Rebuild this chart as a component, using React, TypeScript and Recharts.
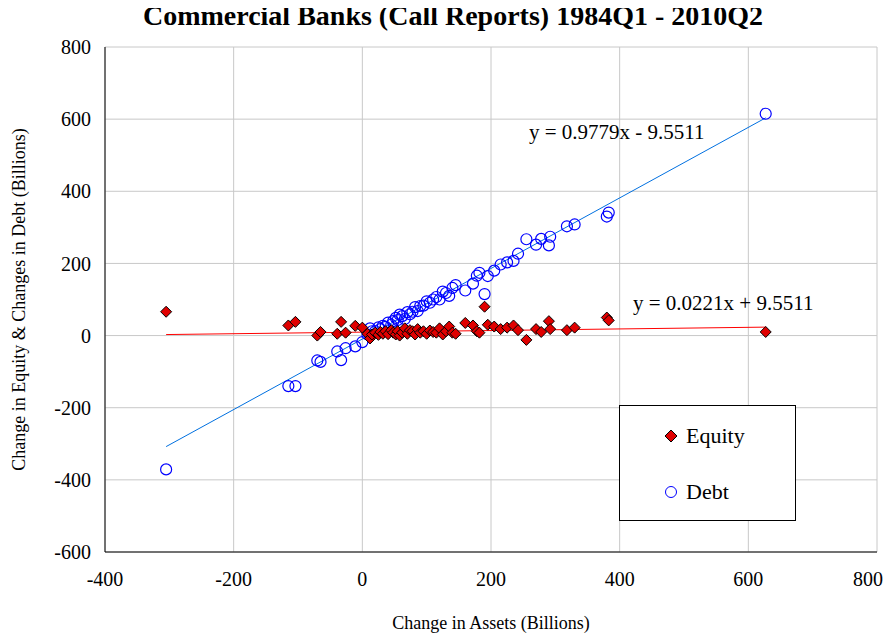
import React from "react";
import { ComposedChart, Scatter, XAxis, YAxis, CartesianGrid, Label } from "recharts";

const assets = [-305, -115, -104, -70, -65, -39, -33, -26, -11, 0, 8, 12, 15, 20, 25, 28, 32, 36, 40, 45, 48, 52, 55, 58, 62, 66, 70, 74, 78, 82, 86, 90, 95, 100, 105, 110, 115, 120, 125, 130, 135, 140, 145, 160, 172, 178, 182, 190, 195, 205, 215, 225, 235, 242, 255, 270, 278, 290, 292, 318, 330, 380, 383, 627];
const equity = [66, 28, 38, 0, 10, 5, 38, 8, 27, 22, 5, -8, 3, 8, 2, 10, 5, 12, 4, 15, 8, 3, 12, 0, 8, 20, 5, 15, 12, 3, 18, 8, 12, 5, 14, 10, 8, 20, 3, 12, 25, 8, 5, 35, 28, 12, 8, 80, 30, 25, 18, 22, 28, 15, -12, 18, 10, 40, 18, 15, 22, 50, 42, 10];
const debt = [-371, -140, -140, -69, -73, -44, -68, -35, -30, -18, 3, 20, 12, 12, 23, 18, 27, 24, 36, 30, 40, 49, 43, 58, 54, 46, 65, 59, 66, 79, 68, 82, 83, 95, 91, 100, 107, 100, 122, 118, 110, 132, 140, 125, 144, 166, 174, 115, 165, 180, 197, 203, 207, 227, 267, 252, 268, 250, 274, 303, 308, 330, 341, 615];
const equityFit = [{ x: -305, y: 2.8 }, { x: 627, y: 23.4 }];
const debtFit = [{ x: -305, y: -307.8 }, { x: 627, y: 603.6 }];
const xTicks = [-400, -200, 0, 200, 400, 600, 800];
const yTicks = [-600, -400, -200, 0, 200, 400, 600, 800];

const equityData = assets.map((x, i) => ({ x, y: equity[i] }));
const debtData = assets.map((x, i) => ({ x, y: debt[i] }));

const font = "Liberation Serif, Times New Roman, serif";

const Diamond = (p: any) => {
  const { cx, cy } = p;
  const r = 5.5;
  return <path d={`M${cx},${cy - r}L${cx + r},${cy}L${cx},${cy + r}L${cx - r},${cy}Z`} fill="#e00000" stroke="#000" strokeWidth={1} />;
};
const Circle = (p: any) => <circle cx={p.cx} cy={p.cy} r={5.5} fill="none" stroke="#0000ff" strokeWidth={1.2} />;
const None = () => null;

const LegendBox = () => (
  <div style={{ position: "absolute", left: 611, top: 397, width: 175, height: 114, border: "1px solid #000", background: "#fff", fontFamily: font, fontSize: 22 }}>
    <div style={{ position: "absolute", left: 44, top: 17, display: "flex", alignItems: "center" }}>
      <svg width={14} height={14}><path d="M7,1L13,7L7,13L1,7Z" fill="#e00000" stroke="#000" /></svg>
      <span style={{ marginLeft: 8 }}>Equity</span>
    </div>
    <div style={{ position: "absolute", left: 44, top: 73, display: "flex", alignItems: "center" }}>
      <svg width={14} height={14}><circle cx={7} cy={7} r={5.5} fill="none" stroke="#0000ff" /></svg>
      <span style={{ marginLeft: 8 }}>Debt</span>
    </div>
  </div>
);

export default function App() {
  return (
    <div style={{ position: "relative", width: 875, height: 630, fontFamily: font }}>
      <div style={{ position: "absolute", left: -5, width: 900, top: -6, lineHeight: 1, textAlign: "center", fontWeight: "bold", fontSize: 28, whiteSpace: "nowrap" }}>
        Commercial Banks (Call Reports) 1984Q1 - 2010Q2
      </div>
      <ComposedChart width={875} height={630} margin={{ top: 39, right: 6, bottom: 56, left: 0 }}>
        <CartesianGrid stroke="#c8c8c8" />
        <XAxis type="number" dataKey="x" domain={[-400, 800]} ticks={xTicks} tickLine={false} axisLine={{ stroke: "#000" }} height={30}
          tick={{ fill: "#000", fontSize: 20, fontFamily: font }} tickMargin={14} allowDataOverflow>
          <Label value="Change in Assets (Billions)" position="insideBottom" offset={-47} style={{ fill: "#000", fontSize: 18, fontFamily: font }} />
        </XAxis>
        <YAxis type="number" dataKey="y" domain={[-600, 800]} ticks={yTicks} tickLine={false} axisLine={{ stroke: "#000" }} width={97}
          tick={{ fill: "#000", fontSize: 20, fontFamily: font }} tickMargin={8} allowDataOverflow>
          <Label value="Change in Equity & Changes in Debt (Billions)" angle={-90} position="insideLeft" dx={6} style={{ fill: "#000", fontSize: 18, fontFamily: font, textAnchor: "middle" }} />
        </YAxis>
        <Scatter data={debtFit} line={{ stroke: "#0070e0", strokeWidth: 1 }} shape={None} isAnimationActive={false} legendType="none" />
        <Scatter data={equityFit} line={{ stroke: "#ff0000", strokeWidth: 1 }} shape={None} isAnimationActive={false} legendType="none" />
        <Scatter data={debtData} shape={Circle} isAnimationActive={false} />
        <Scatter data={equityData} shape={Diamond} isAnimationActive={false} />
      </ComposedChart>
      <div style={{ position: "absolute", left: 521, top: 112, fontSize: 21 }}>y = 0.9779x - 9.5511</div>
      <div style={{ position: "absolute", left: 625, top: 283, fontSize: 21 }}>y = 0.0221x + 9.5511</div>
      <LegendBox />
    </div>
  );
}
